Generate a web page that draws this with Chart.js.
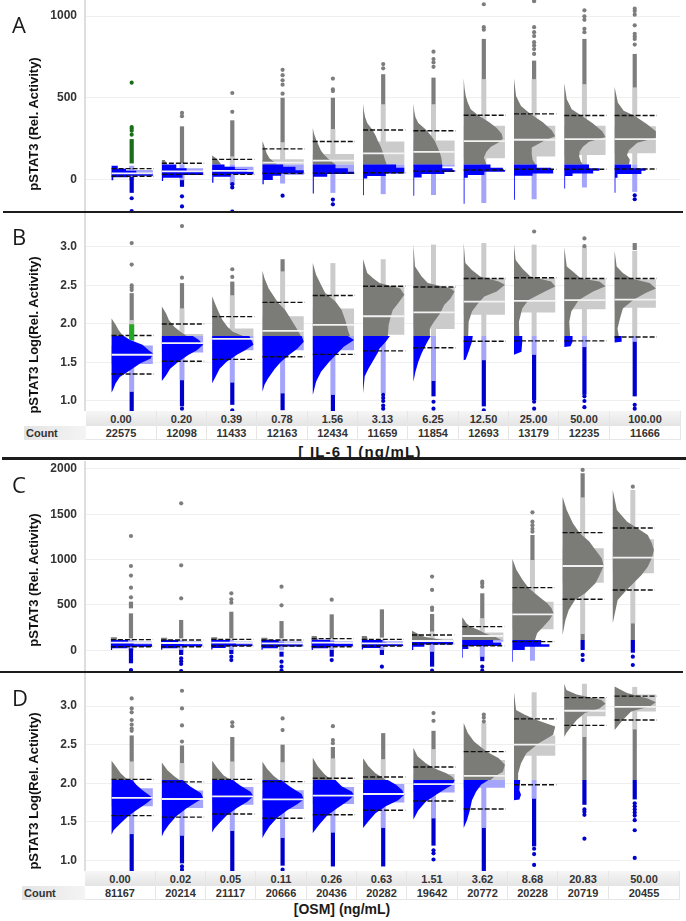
<!DOCTYPE html>
<html>
<head>
<meta charset="utf-8">
<title>pSTAT3 dose response</title>
<script src="https://cdn.jsdelivr.net/npm/chart.js@4/dist/chart.umd.min.js"></script>
<style>
html, body { margin: 0; padding: 0; background: #fff; width: 686px; height: 921px; overflow: hidden; font-family: "Liberation Sans", Arial, sans-serif; }
canvas { position: absolute; left: 0; }
.rule { position: absolute; background: #1c1c1c; }
.letter { position: absolute; left: 12px; font: 22px "Open Sans", sans-serif; color: #1a1a1a; line-height: 26px; }
.ytitle { position: absolute; left: 33px; font-weight: bold; font-size: 13px; color: #111; white-space: nowrap; transform: translate(-50%, -50%) rotate(-90deg); }
.xtitle { position: absolute; font-weight: bold; color: #1a1a1a; white-space: nowrap; transform: translate(-50%, -50%); }
.cell { position: absolute; height: 14px; line-height: 14px; text-align: center; font-weight: bold; font-size: 11px; color: #333; box-sizing: border-box; border-right: 1px solid #e6e6e6; }
.dose { background: linear-gradient(#f6f6f6, #e4e4e4); height: 15px; line-height: 16px; }
.count { background: #fff; border-bottom: 1px solid #e6e6e6; }
.countHead { text-align: left; padding-left: 2px; background: linear-gradient(90deg, #e4e4e4, #f4f4f4); border: 0; }
</style>
</head>
<body>
<canvas id="panelA" width="686" height="211" style="top:0"></canvas>
<canvas id="panelB" width="686" height="198" style="top:213px"></canvas>
<canvas id="panelC" width="686" height="211" style="top:461px"></canvas>
<canvas id="panelD" width="686" height="198" style="top:673px"></canvas>
<div class="rule" style="left:3px;width:680px;top:211px;height:2px"></div>
<div class="rule" style="left:2px;width:684px;top:457px;height:3px"></div>
<div class="rule" style="left:0;width:683px;top:671px;height:2px"></div>
<div class="letter" style="top:11px">A</div>
<div class="letter" style="top:223px">B</div>
<div class="letter" style="top:471px">C</div>
<div class="letter" style="top:684px">D</div>
<div class="ytitle" style="top:124px">pSTAT3 (Rel. Activity)</div>
<div class="ytitle" style="top:335px">pSTAT3 Log(Rel. Activity)</div>
<div class="ytitle" style="top:580px">pSTAT3 (Rel. Activity)</div>
<div class="ytitle" style="top:791px">pSTAT3 Log(Rel. Activity)</div>
<div class="xtitle" style="left:360px;top:451px;font-size:15px;letter-spacing:1.2px">[ IL-6 ] (ng/mL)</div>
<div class="xtitle" style="left:342px;top:909px;font-size:14px">[OSM] (ng/mL)</div>
<script>
// categories under the two log panels
const dosesIL6 = ['0.00', '0.20', '0.39', '0.78', '1.56', '3.13', '6.25', '12.50', '25.00', '50.00', '100.00'];
const countsIL6 = ['22575', '12098', '11433', '12163', '12434', '11659', '11854', '12693', '13179', '12235', '11666'];
const dosesOSM = ['0.00', '0.02', '0.05', '0.11', '0.26', '0.63', '1.51', '3.62', '8.68', '20.83', '50.00'];
const countsOSM = ['81167', '20214', '21117', '20666', '20436', '20282', '19642', '20772', '20228', '20719', '20455'];

const ticksA = [0, 500, 1000];
const ticksB = [1, 1.5, 2, 2.5, 3];
const ticksC = [0, 500, 1000, 1500, 2000];
const ticksD = [1, 1.5, 2, 2.5, 3];

// gate between grey and blue populations
const gateA = 92, gateB = 1.845, gateC = 114, gateD = 2.043;

// histograms: [activity, relative count]
const grayHistA = [
    [],
    [[119, 0], [119, .07], [105, .1], [92, .13]],
    [[146, 0], [134, .07], [118, .14], [92, .22]],
    [[235, 0], [200, .05], [160, .1], [130, .17], [110, .27], [92, .35]],
    [[315, 0], [280, .03], [245, .08], [210, .14], [175, .2], [150, .28], [125, .38], [105, .48], [92, .55]],
    [[465, 0], [420, .02], [380, .05], [345, .1], [305, .22], [270, .3], [235, .36], [200, .43], [165, .48], [130, .52], [92, .57]],
    [[465, 0], [420, .02], [380, .05], [345, .12], [305, .3], [270, .42], [235, .52], [200, .58], [165, .64], [130, .68], [92, .7]],
    [[619, 0], [560, .02], [510, .05], [470, .1], [430, .17], [393, .35], [350, .62], [315, .8], [280, .92], [250, .95], [230, .88], [200, .66], [170, .55], [135, .49], [92, .55]],
    [[617, 0], [510, .05], [450, .17], [400, .4], [350, .7], [300, .92], [265, 1], [235, .72], [195, .43], [155, .43], [120, .45], [92, .52]],
    [[589, 0], [490, .06], [430, .18], [390, .42], [345, .68], [295, .92], [260, 1], [230, .6], [200, .45], [170, .37], [140, .36], [110, .4], [92, .45]],
    [[566, 0], [470, .08], [420, .22], [390, .48], [340, .78], [295, 1], [255, 1], [225, .55], [180, .35], [150, .3], [120, .37], [92, .35]]
];
const blueHistA = [
    [[84, 0], [66, .15], [53, .35], [40, .6], [22, 1], [14, .4], [-5, .04]],
    [[92, 0], [68, .35], [47, .6], [27, 1], [10, .5], [-10, .03]],
    [[92, 0], [78, .3], [62, .55], [47, .85], [33, 1], [16, .45], [-20, .03]],
    [[92, 0], [78, .5], [57, .8], [37, 1], [23, .45], [-4, .25], [-30, .03]],
    [[92, 0], [68, .55], [47, .85], [33, 1], [16, .35], [-86, .025]],
    [[92, 0], [72, .8], [37, 1], [21, .55], [6, .1], [-97, .02]],
    [[92, 0], [68, .7], [58, .95], [45, 1], [33, .75], [12, .2], [-100, .02]],
    [[92, 0], [72, .65], [58, .95], [47, 1], [27, .5], [10, .1], [-148, .02]],
    [[92, 0], [72, .55], [58, .9], [37, .95], [23, .45], [-124, .02]],
    [[92, 0], [68, .6], [53, .85], [37, .7], [21, .2], [-56, .02]],
    [[92, 0], [68, .4], [53, .75], [33, .65], [10, .07], [-82, .02]]
];
const grayHistB = [
    [[2.07, 0], [1.99, .1], [1.92, .17], [1.845, .28]],
    [[2.225, 0], [2.14, .1], [2.05, .17], [1.965, .3], [1.9, .45], [1.845, .6]],
    [[2.36, 0], [2.25, .08], [2.14, .17], [2.05, .25], [1.965, .37], [1.9, .5], [1.845, .75]],
    [[2.69, 0], [2.69, .01], [2.59, .05], [2.46, .15], [2.38, .25], [2.28, .37], [2.18, .55], [2.095, .65], [2.01, .75], [1.92, .85], [1.845, .93]],
    [[2.79, 0], [2.64, .08], [2.51, .2], [2.4, .3], [2.29, .55], [2.18, .7], [2.03, .8], [1.92, .85], [1.845, .9]],
    [[2.84, 0], [2.66, .1], [2.59, .25], [2.53, .4], [2.46, .9], [2.38, 1], [2.27, .85], [2.18, .72], [2.095, .67], [1.99, .62], [1.845, .6]],
    [[3.03, 0], [2.745, .04], [2.615, .2], [2.53, .35], [2.46, .9], [2.42, 1], [2.33, .9], [2.25, .75], [2.14, .65], [2.03, .5], [1.945, .4], [1.845, .4]],
    [[3.05, 0], [2.79, .04], [2.7, .2], [2.615, .4], [2.55, .85], [2.51, 1], [2.42, .8], [2.355, .5], [2.27, .35], [2.16, .2], [2.03, .12], [1.845, .11]],
    [[3.03, 0], [2.83, .04], [2.72, .2], [2.615, .4], [2.55, .9], [2.485, 1], [2.42, .75], [2.31, .35], [2.2, .2], [2.03, .12], [1.845, .13]],
    [[2.995, 0], [2.745, .06], [2.66, .25], [2.59, .4], [2.55, .85], [2.49, 1], [2.42, .7], [2.31, .35], [2.16, .17], [2.03, .12], [1.845, .14]],
    [[2.95, 0], [2.745, .05], [2.66, .2], [2.59, .4], [2.53, .85], [2.46, 1], [2.4, .75], [2.31, .45], [2.2, .2], [2.07, .13], [1.94, .07], [1.845, .1]]
];
const blueHistB = [
    [[1.845, 0], [1.845, .3], [1.79, .45], [1.73, .75], [1.66, .9], [1.62, 1], [1.55, .95], [1.49, .7], [1.4, .45], [1.31, .2], [1.23, .1], [1.14, .03], [1.11, 0]],
    [[1.845, 0], [1.845, .75], [1.79, .9], [1.73, 1], [1.66, .85], [1.6, .65], [1.51, .4], [1.42, .2], [1.33, .1], [1.26, 0]],
    [[1.845, 0], [1.845, .9], [1.77, .97], [1.73, 1], [1.66, .8], [1.6, .6], [1.51, .35], [1.42, .18], [1.31, .08], [1.23, 0]],
    [[1.845, 0], [1.845, .95], [1.77, 1], [1.68, .85], [1.6, .65], [1.51, .45], [1.42, .3], [1.29, .13], [1.21, .05], [1.12, 0]],
    [[1.845, 0], [1.845, .85], [1.79, 1], [1.705, .75], [1.62, .6], [1.51, .4], [1.38, .2], [1.25, .08], [1.12, .02], [1.08, 0]],
    [[1.845, 0], [1.845, .65], [1.77, .55], [1.68, .4], [1.62, .35], [1.53, .25], [1.42, .13], [1.32, .04], [1.1, 0]],
    [[1.845, 0], [1.845, .42], [1.75, .32], [1.62, .2], [1.51, .12], [1.38, .05], [1.25, 0]],
    [[1.845, 0], [1.845, .22], [1.77, .2], [1.66, .13], [1.54, .05], [1.53, 0]],
    [[1.845, 0], [1.845, .2], [1.77, .2], [1.64, .18], [1.6, 0]],
    [[1.845, 0], [1.845, .2], [1.77, .2], [1.71, .15], [1.7, 0]],
    [[1.845, 0], [1.845, .17], [1.77, .17], [1.76, 0]]
];
const grayHistC = [
    [[143, 0], [143, .14], [114, .16]],
    [[140, 0], [140, .14], [114, .16]],
    [[143, 0], [143, .14], [114, .16]],
    [[140, 0], [140, .14], [114, .16]],
    [[158, 0], [158, .12], [114, .15]],
    [[158, 0], [158, .12], [114, .15]],
    [[217, 0], [187, .12], [151, .3], [114, .75]],
    [[364, 0], [335, .05], [298, .1], [261, .2], [224, .4], [188, .55], [151, .8], [114, .95]],
    [[1007, 0], [886, .1], [776, .25], [684, .4], [592, .65], [518, .85], [463, .95], [408, 1], [335, .9], [261, .75], [188, .6], [114, .55]],
    [[1695, 0], [1548, .1], [1401, .25], [1291, .42], [1199, .65], [1107, .8], [1015, .95], [930, 1], [831, .9], [739, .8], [629, .55], [555, .3], [445, .15], [335, .07], [169, 0]],
    [[1769, 0], [1548, .1], [1419, .35], [1346, .6], [1272, .85], [1180, .95], [1107, 1], [1015, .95], [923, .85], [831, .7], [739, .5], [647, .3], [555, .12], [427, .06], [298, 0]]
];
const blueHistC = [
    [[114, 0], [88, .42], [66, .55], [40, 1], [22, .4], [4, .03]],
    [[114, 0], [88, .42], [66, .55], [44, 1], [22, .4], [6, .03]],
    [[114, 0], [92, .45], [66, .6], [48, 1], [26, .35], [8, .03]],
    [[114, 0], [88, .42], [66, .55], [44, 1], [22, .4], [6, .03]],
    [[118, 0], [96, .45], [70, .55], [44, 1], [22, .4], [4, .03]],
    [[114, 0], [88, .5], [70, .6], [48, 1], [26, .45], [8, .03]],
    [[114, 0], [96, .85], [66, 1], [40, .3], [4, .03]],
    [[114, 0], [85, .75], [48, .95], [15, .15], [-81, .015]],
    [[114, 0], [66, .7], [40, .9], [4, .3], [-125, .015]],
    [],
    []
];
const grayHistD = [
    [[2.29, 0], [2.22, .1], [2.13, .22], [2.065, .35], [2.043, .45]],
    [[2.27, 0], [2.17, .13], [2.09, .3], [2.043, .43]],
    [[2.29, 0], [2.2, .12], [2.1, .28], [2.043, .45]],
    [[2.28, 0], [2.18, .12], [2.09, .28], [2.043, .4]],
    [[2.33, 0], [2.22, .12], [2.12, .28], [2.065, .4], [2.043, .5]],
    [[2.325, 0], [2.22, .13], [2.13, .3], [2.08, .45], [2.043, .55]],
    [[2.46, 0], [2.35, .1], [2.26, .3], [2.195, .5], [2.13, .8], [2.08, .95], [2.043, 1]],
    [[2.78, 0], [2.65, .1], [2.54, .25], [2.41, .55], [2.325, .85], [2.24, 1], [2.15, .95], [2.087, .75], [2.043, .65]],
    [[3.18, 0], [2.95, .05], [2.89, .25], [2.82, .55], [2.735, 1], [2.63, .95], [2.52, .6], [2.39, .3], [2.26, .17], [2.13, .1], [2.043, .1]],
    [[3.29, 0], [3.21, .05], [3.15, .3], [3.08, .9], [3.03, 1], [2.97, .85], [2.91, .5], [2.82, .3], [2.735, .17], [2.65, .05], [2.6, 0]],
    [[3.255, 0], [3.17, .3], [3.1, .8], [3.05, 1], [2.995, .85], [2.93, .4], [2.82, .2], [2.69, 0]]
];
const blueHistD = [
    [[2.043, 0], [2.043, .5], [1.98, .6], [1.91, .75], [1.85, .9], [1.805, 1], [1.74, .85], [1.65, .6], [1.57, .4], [1.48, .22], [1.39, .05], [1.33, 0]],
    [[2.043, 0], [2.043, .5], [1.96, .68], [1.87, .95], [1.805, 1], [1.76, .85], [1.675, .6], [1.57, .35], [1.46, .17], [1.37, .05], [1.31, 0]],
    [[2.043, 0], [2.043, .5], [1.97, .68], [1.89, .93], [1.83, 1], [1.76, .85], [1.68, .6], [1.58, .35], [1.48, .17], [1.41, .05], [1.36, 0]],
    [[2.043, 0], [2.043, .45], [1.95, .68], [1.86, .95], [1.79, 1], [1.73, .85], [1.65, .6], [1.55, .35], [1.44, .17], [1.34, .05], [1.29, 0]],
    [[2.043, 0], [2.043, .55], [1.96, .7], [1.89, .95], [1.84, 1], [1.77, .85], [1.68, .6], [1.58, .35], [1.47, .17], [1.39, .05], [1.35, 0]],
    [[2.043, 0], [2.043, .6], [1.98, .8], [1.91, .95], [1.85, 1], [1.78, .85], [1.7, .55], [1.61, .3], [1.5, .12], [1.42, 0]],
    [[2.043, 0], [2.043, 1], [1.98, .95], [1.935, .8], [1.85, .55], [1.76, .3], [1.65, .12], [1.53, 0]],
    [[2.043, 0], [2.043, .6], [1.98, .42], [1.89, .3], [1.78, .2], [1.65, .15], [1.52, .08], [1.42, 0]],
    [[2.043, 0], [2.043, .15], [1.91, .13], [1.85, .17], [1.79, .13], [1.78, 0]],
    [],
    []
];

// box: [q1, median, q3]
const boxA = [[20, 37, 58], [33, 49, 68], [27, 53, 78], [27, 103, 123], [40, 115, 156], [70, 160, 232], [80, 169, 239], [130, 235, 329], [140, 243, 329], [150, 247, 329], [160, 247, 325]];
const boxB = [[1.48, 1.6, 1.72], [1.63, 1.75, 1.87], [1.66, 1.805, 1.94], [1.66, 1.91, 2.1], [1.66, 1.987, 2.2], [1.86, 2.1, 2.49], [1.935, 2.15, 2.48], [2.12, 2.29, 2.59], [2.15, 2.3, 2.6], [2.19, 2.31, 2.59], [2.21, 2.315, 2.58]];
const boxC = [[40, 85, 96], [40, 81, 96], [45, 85, 96], [40, 77, 96], [40, 85, 100], [45, 77, 100], [60, 103, 129], [95, 158, 198], [232, 397, 537], [746, 930, 1125], [849, 1022, 1224]];
const boxD = [[1.7, 1.81, 1.935], [1.68, 1.795, 1.905], [1.72, 1.83, 1.95], [1.665, 1.79, 1.91], [1.73, 1.84, 1.95], [1.75, 1.86, 1.99], [1.88, 1.987, 2.12], [1.94, 2.095, 2.3], [2.355, 2.5, 2.62], [2.87, 2.94, 3.11], [2.93, 2.99, 3.15]];

// whisker: [low, high]
const whiskerA = [[-5, 84], [-5, 99], [-30, 140], [-25, 225], [-82, 308], [-90, 459], [-95, 459], [-144, 613], [-121, 613], [-49, 582], [-76, 562]];
const whiskerB = [[1.12, 2.05], [1.27, 2.2], [1.24, 2.37], [1.1, 2.68], [1.08, 2.79], [1.1, 2.84], [1.26, 3.03], [1.53, 3.05], [1.6, 3.03], [1.7, 2.995], [1.77, 2.95]];
const whiskerC = [[0, 120], [0, 120], [0, 120], [0, 120], [0, 120], [0, 120], [-15, 200], [-70, 353], [-114, 996], [180, 1684], [298, 1769]];
const whiskerD = [[1.34, 2.28], [1.32, 2.26], [1.38, 2.28], [1.29, 2.27], [1.36, 2.32], [1.42, 2.31], [1.545, 2.44], [1.42, 2.78], [1.8, 3.18], [2.6, 3.29], [2.7, 3.25]];

// dashed lines: [lower, upper]
const dashA = [[20, 66], [31, 99], [31, 123], [37, 187], [39, 232], [41, 303], [51, 298], [58, 393], [62, 401], [62, 391], [64, 391]];
const dashB = [[1.35, 1.85], [1.515, 2], [1.54, 2.095], [1.575, 2.28], [1.605, 2.37], [1.65, 2.49], [1.69, 2.48], [1.775, 2.59], [1.78, 2.6], [1.78, 2.59], [1.83, 2.59]];
const dashC = [[40, 118], [40, 114], [48, 121], [48, 114], [40, 129], [48, 121], [70, 169], [51, 261], [96, 691], [563, 1298], [665, 1349]];
const dashD = [[1.58, 2.05], [1.56, 2.017], [1.6, 2.05], [1.545, 2.02], [1.59, 2.065], [1.65, 2.08], [1.77, 2.21], [1.665, 2.41], [1.98, 2.835], [2.75, 3.11], [2.82, 3.13]];

// outliers: solid runs [low, high] and single dots per dose
const grayRunsA = [[], [[99, 325]], [[140, 362]], [[226, 500]], [[308, 500]], [[459, 644]], [[459, 623]], [[613, 860]], [[613, 727]], [[582, 860]], [[562, 768]]];
const grayDotsA = [[], [407, 387], [529, 414], [671, 638, 607, 580, 525], [617, 551, 541], [706, 680], [782, 737, 716, 689], [1072, 932, 916], [1091, 932, 901, 877, 840, 820, 798, 768], [1035, 998, 977, 922, 901], [1045, 1030, 1008, 943, 891, 875, 860, 825]];
const blueRunsA = [[[-82, 16]], [[-45, -4]], [], [], [], [], [], [], [], [], []];
const blueDotsA = [[-115, -193], [-103, -165], [-29, -49, -197], [-99], [-123, -152], [], [], [], [], [], [-97, -121]];
const grayRunsB = [[[2.05, 2.4]], [[2.2, 2.53]], [[2.37, 2.55]], [[2.68, 2.84]], [], [], [], [], [], [], [[2.96, 3.05]]];
const grayDotsB = [[3.05, 2.77, 2.5, 2.47, 2.44], [3.27, 2.6], [2.71, 2.61], [], [], [], [], [], [3.2], [3.11, 3.01], []];
const blueRunsB = [[[.87, 1.12]], [[.93, 1.27]], [[.95, 1.24]], [[.88, 1.1]], [[.87, 1.08]], [], [[1.06, 1.26]], [[.93, 1.53]], [[1.01, 1.6]], [[1.08, 1.7]], [[1.06, 1.77]]];
const blueDotsB = [[], [.9], [.88], [], [], [1.08, 1.04, 1, .94, .9], [.99, .9], [.88], [.99, .9], [1.06, 1, .92], [.95, .9]];
const grayRunsC = [[[132, 408], [463, 537]], [[132, 335]], [[132, 426]], [[132, 323]], [[132, 397]], [[140, 452]], [[206, 401]], [[353, 629]], [[996, 1272]], [[114, 180], [1684, 1953]], [[114, 298]]];
const grayDotsC = [[1261, 930, 824, 691, 585], [1621, 938, 574], [629, 563, 526], [702, 496], [559], [], [813, 666, 471, 445], [757, 735, 702], [1522, 1419, 1380, 1340, 1309], [1990], [1805]];
const blueRunsC = [[[-143, 22]], [[-51, 4]], [[-40, 4]], [[-70, -15]], [[-70, 4]], [[-51, 4]], [[-180, -15]], [[-120, -70]], [], [[4, 114]], [[-26, 114]]];
const blueDotsC = [[-217, -225], [-88, -120, -151, -228], [-70, -107], [-125, -180, -224], [-107], [-180], [-224], [-180, -224], [], [-51, -107], [-70, -162]];
const grayRunsD = [[[2.28, 2.62]], [[2.26, 2.49]], [[2.28, 2.6]], [[2.27, 2.5]], [[2.32, 2.47]], [[2.31, 2.65]], [[2.44, 2.68]], [], [], [[2.043, 2.6]], [[2.043, 2.7]]];
const grayDotsD = [[3.1, 2.97, 2.92, 2.82, 2.76, 2.71, 2.68], [3.2, 2.97, 2.75, 2.54], [2.79, 2.74], [2.84, 2.69], [2.74, 2.56, 2.52], [], [2.91, 2.81], [2.89, 2.85, 2.8], [], [], []];
const blueRunsD = [[[.86, 1.34]], [[.96, 1.32]], [[.86, 1.38]], [[.93, 1.29]], [[.92, 1.36]], [[.92, 1.42]], [[1.19, 1.545]], [[.86, 1.42]], [[1.18, 1.8]], [[1.72, 2.043]], [[1.79, 2.043]]];
const blueDotsD = [[], [.92, .88], [], [.88], [], [], [1.13, 1.09, 1.01], [], [1.15, 1.08, .94], [1.66, 1.63, 1.59, 1.28], [1.74, 1.7, 1.66, 1.62, 1.58, 1.52, 1.39, 1.03]];

// untreated wells flagged green in A and B
const greenRunA = [98, 247];
const greenDotsA = [592, 321, 310, 298, 274];
const greenBarB = [1.79, 1.996];

const GROUP_LEFT = -0.40, GROUP_RIGHT = 0.42;
const GRAY = '#7b7b78', BLUE = '#0000ff', LIGHT_GRAY = '#cbcbcb', LIGHT_BLUE = '#a4a4fb', DOT_GRAY = '#7d7d7d', DOT_BLUE = '#0000cd';

function area(points, color, stepped) {
    return { data: points, showLine: true, fill: 'shape', backgroundColor: color, borderWidth: 0, pointRadius: 0, stepped: stepped || false };
}
function bar(x1, y1, x2, y2, color, width, extra) {
    return Object.assign({ data: [{ x: x1, y: y1 }, { x: x2, y: y2 }], showLine: true, borderColor: color, borderWidth: width, pointRadius: 0 }, extra);
}
function dots(i, values, color) {
    return { data: values.map(v => ({ x: i, y: v })), showLine: false, backgroundColor: color, borderWidth: 0, pointRadius: 2.1 };
}
function histArea(i, hist, color, stepped) {
    const w = GROUP_RIGHT - GROUP_LEFT;
    const pts = hist.map(p => ({ x: i + GROUP_LEFT + p[1] * w, y: p[0] }));
    pts.push({ x: i + GROUP_LEFT, y: hist[hist.length - 1][0] });
    return area(pts, color, stepped);
}
function boxArea(i, lo, hi, color) {
    const l = i + GROUP_LEFT, r = i + GROUP_RIGHT;
    return area([{ x: l, y: hi }, { x: r, y: hi }, { x: r, y: lo }, { x: l, y: lo }], color);
}

function drawPanel(id, p) {
    const back = [], mid = [], front = [];
    for (let i = 0; i < 11; i++) {
        const [q1, median, q3] = p.box[i];
        if (q3 > p.gate) back.push(boxArea(i, Math.max(q1, p.gate), q3, LIGHT_GRAY));
        if (q1 < p.gate) back.push(boxArea(i, q1, Math.min(q3, p.gate), LIGHT_BLUE));

        const [wLow, wHigh] = p.whisker[i];
        if (wHigh > p.gate) back.push(bar(i, Math.max(wLow, p.gate), i, wHigh, LIGHT_GRAY, 5));
        if (wLow < p.gate) back.push(bar(i, wLow, i, Math.min(wHigh, p.gate), LIGHT_BLUE, 5));

        if (p.grayHist[i].length) mid.push(histArea(i, p.grayHist[i], GRAY, p.stepGray));
        if (p.blueHist[i].length) mid.push(histArea(i, p.blueHist[i], BLUE, p.stepBlue));

        p.grayRuns[i].forEach(r => front.push(bar(i, r[0], i, r[1], DOT_GRAY, 4.2)));
        p.blueRuns[i].forEach(r => front.push(bar(i, r[0], i, r[1], DOT_BLUE, 4.2)));
        front.push(dots(i, p.grayDots[i], DOT_GRAY));
        front.push(dots(i, p.blueDots[i], DOT_BLUE));

        front.push(bar(i + GROUP_LEFT, median, i + GROUP_RIGHT, median, '#f2f2f2', 1.8));
        const dash = { borderDash: [5, 2] };
        front.push(bar(i + GROUP_LEFT, p.dash[i][0], i + GROUP_RIGHT + 0.02, p.dash[i][0], '#111', 1.4, dash));
        front.push(bar(i + GROUP_LEFT, p.dash[i][1], i + GROUP_RIGHT + 0.02, p.dash[i][1], '#111', 1.4, dash));
    }
    // chart.js paints the first dataset on top
    const datasets = back.concat(mid, front, p.extra || []).reverse();

    new Chart(document.getElementById(id), {
        type: 'scatter',
        data: { datasets },
        options: {
            responsive: false,
            animation: false,
            events: [],
            layout: { autoPadding: false, padding: { right: 6 } },
            plugins: { legend: { display: false }, tooltip: { enabled: false } },
            scales: {
                x: { type: 'linear', display: false, min: p.xMin, max: p.xMax },
                y: {
                    min: p.yMin,
                    max: p.yMax,
                    afterBuildTicks: scale => { scale.ticks = p.ticks.map(value => ({ value })); },
                    afterFit: scale => { scale.width = 85; scale.paddingTop = 0; scale.paddingBottom = 0; },
                    grid: { color: '#efefef', drawTicks: false },
                    border: { color: '#dedede', width: 2 },
                    ticks: {
                        padding: 8,
                        color: '#333',
                        font: { family: 'Liberation Sans', size: 12, weight: 'bold' },
                        callback: v => (p.logScale ? v.toFixed(1) : String(v))
                    }
                }
            }
        }
    });
}

drawPanel('panelA', {
    gate: gateA, ticks: ticksA, yMin: -193, yMax: 1098, xMin: -0.928, xMax: 10.9, stepBlue: true,
    grayHist: grayHistA, blueHist: blueHistA, box: boxA, whisker: whiskerA, dash: dashA,
    grayRuns: grayRunsA, grayDots: grayDotsA, blueRuns: blueRunsA, blueDots: blueDotsA,
    extra: [bar(0, greenRunA[0], 0, greenRunA[1], '#1a6e1a', 4.2), dots(0, greenDotsA, '#1a6e1a')]
});
drawPanel('panelB', {
    gate: gateB, ticks: ticksB, yMin: 0.87, yMax: 3.44, xMin: -0.928, xMax: 10.9, logScale: true,
    grayHist: grayHistB, blueHist: blueHistB, box: boxB, whisker: whiskerB, dash: dashB,
    grayRuns: grayRunsB, grayDots: grayDotsB, blueRuns: blueRunsB, blueDots: blueDotsB,
    extra: [bar(0, greenBarB[0], 0, greenBarB[1], '#22a822', 5)]
});
drawPanel('panelC', {
    gate: gateC, ticks: ticksC, yMin: -239, yMax: 2088, xMin: -0.916, xMax: 10.94, stepBlue: true,
    grayHist: grayHistC, blueHist: blueHistC, box: boxC, whisker: whiskerC, dash: dashC,
    grayRuns: grayRunsC, grayDots: grayDotsC, blueRuns: blueRunsC, blueDots: blueDotsC
});
drawPanel('panelD', {
    gate: gateD, ticks: ticksD, yMin: 0.861, yMax: 3.43, xMin: -0.928, xMax: 10.9, logScale: true,
    grayHist: grayHistD, blueHist: blueHistD, box: boxD, whisker: whiskerD, dash: dashD,
    grayRuns: grayRunsD, grayDots: grayDotsD, blueRuns: blueRunsD, blueDots: blueDotsD
});

// dose and count table below the log panels
function addTable(doses, counts, top, left, head) {
    const widths = [71, 50, 50, 51, 50, 50, 51, 50, 50, 51, 71];
    const add = (cls, text, x, y, w) => {
        const el = document.createElement('div');
        el.className = 'cell ' + cls;
        el.textContent = text;
        el.style.cssText = `left:${x}px;top:${y}px;width:${w}px`;
        document.body.appendChild(el);
    };
    add('count countHead', 'Count', head, top + 15, left - head);
    let x = left;
    doses.forEach((d, i) => {
        add('dose', d, x, top, widths[i]);
        add('count', counts[i], x, top + 15, widths[i]);
        x += widths[i];
    });
}
addTable(dosesIL6, countsIL6, 411, 86, 24);
addTable(dosesOSM, countsOSM, 871, 85, 22);
</script>
</body>
</html>
